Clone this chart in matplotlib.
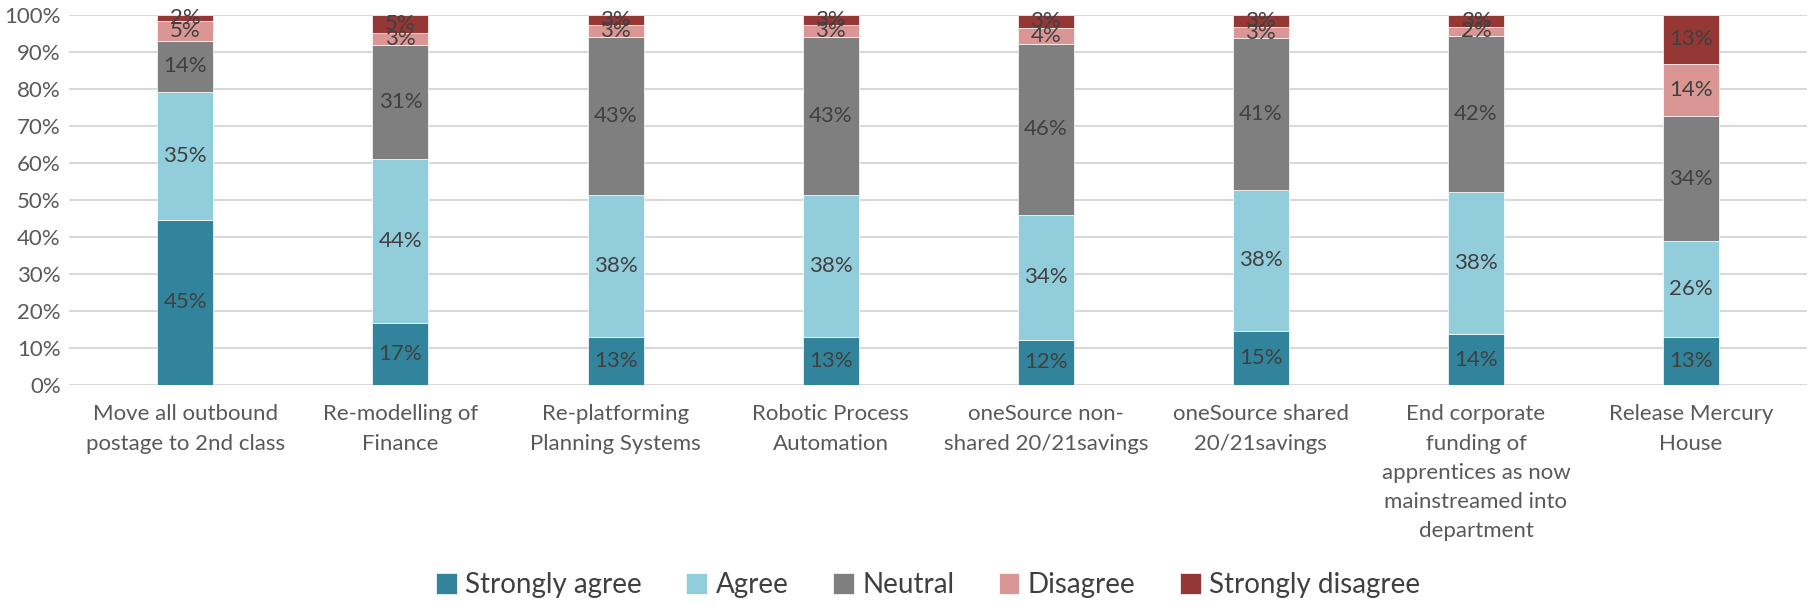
import matplotlib.pyplot as plt
import numpy as np

plt.rcParams['font.family'] = ['Lato', 'DejaVu Sans']

# categories (wrapped as in the original)
categories = [
    'Move all outbound\npostage to 2nd class',
    'Re-modelling of\nFinance',
    'Re-platforming\nPlanning Systems',
    'Robotic Process\nAutomation',
    'oneSource non-\nshared 20/21savings',
    'oneSource shared\n20/21savings',
    'End corporate\nfunding of\napprentices as now\nmainstreamed into\ndepartment',
    'Release Mercury\nHouse',
]

# percentages
strongly_agree = [44.7, 16.7, 13.0, 13.0, 12.2, 14.7, 13.7, 13.0]
agree = [34.6, 44.3, 38.4, 38.4, 33.8, 38.1, 38.4, 26.0]
neutral = [13.7, 30.9, 42.6, 42.6, 46.2, 41.0, 42.3, 33.6]
disagree = [5.3, 3.2, 3.3, 3.3, 4.4, 3.0, 2.4, 14.3]
strongly_disagree = [1.7, 4.9, 2.7, 2.7, 3.4, 3.2, 3.2, 13.1]

series = [
    ('Strongly agree', strongly_agree, '#31849B'),
    ('Agree', agree, '#92CDDC'),
    ('Neutral', neutral, '#7F7F7F'),
    ('Disagree', disagree, '#DA9694'),
    ('Strongly disagree', strongly_disagree, '#953735'),
]

fig = plt.figure(figsize=(18.2, 6.08), dpi=100)
ax = fig.add_axes([0.038, 0.367, 0.955, 0.608])

x = np.arange(len(categories))
bottom = np.zeros(len(categories))
handles = []
for name, vals, color in series:
    vals = np.array(vals)
    bars = ax.bar(x, vals, 0.26, bottom=bottom, color=color, label=name,
                  edgecolor='white', linewidth=0.5, zorder=2)
    ax.bar_label(bars, labels=['{:.0f}%'.format(v) for v in vals],
                 label_type='center', color='#404040', fontsize=16)
    bottom += vals
    handles.append(bars)

ax.set_ylim(0, 100)
ax.set_xlim(-0.54, len(categories) - 0.46)
ax.set_yticks(np.arange(0, 101, 10))
ax.set_yticklabels(['{}%'.format(v) for v in range(0, 101, 10)])
ax.set_xticks(x)
ax.set_xticklabels(categories, linespacing=1.58)
ax.tick_params(axis='both', length=0, labelsize=16, colors='#595959')
ax.tick_params(axis='x', pad=14)
ax.tick_params(axis='y', pad=6)
ax.yaxis.grid(True, color='#D9D9D9', linewidth=1.5, zorder=0)
ax.set_axisbelow(True)
for s in ax.spines.values():
    s.set_visible(False)

fig.legend(handles=handles, loc='lower center', bbox_to_anchor=(0.51, -0.025),
           ncol=5, frameon=False, fontsize=20, handlelength=0.75,
           handleheight=0.75, handletextpad=0.3, columnspacing=1.6,
           labelcolor='#404040')

fig.savefig('out.png', dpi=100)
